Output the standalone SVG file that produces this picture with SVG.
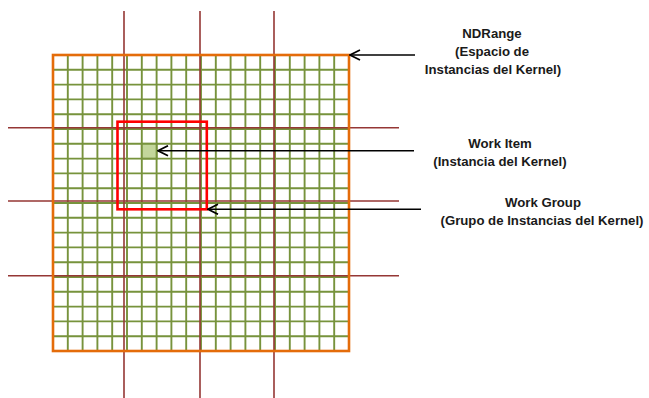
<svg xmlns="http://www.w3.org/2000/svg" width="649" height="398" viewBox="0 0 649 398">
<style>
.g{stroke:#77933C;stroke-width:1.9;fill:none}
.dr{stroke:#953735;stroke-width:1.6;fill:none}
.arr{stroke:#000;stroke-width:1.6;fill:none;marker-start:url(#ah)}
.t{font-family:"Liberation Sans",Arial,sans-serif;font-weight:bold;font-size:13.2px;fill:#1a1a1a;text-anchor:middle}
</style>
<defs>
<marker id="ah" viewBox="0 0 12 12" refX="1" refY="6" markerWidth="12" markerHeight="12" markerUnits="userSpaceOnUse" orient="auto">
<path d="M11,1 L1,6 L11,11" fill="none" stroke="#000" stroke-width="1.7"/>
</marker>
</defs>
<g id="ndrange-grid">
<path class="g" d="M67.8,55V351M82.6,55V351M97.4,55V351M112.2,55V351M127,55V351M141.8,55V351M156.6,55V351M171.4,55V351M186.2,55V351M201,55V351M215.8,55V351M230.6,55V351M245.4,55V351M260.2,55V351M275,55V351M289.8,55V351M304.6,55V351M319.4,55V351M334.2,55V351"/>
<path class="g" d="M53,69.8H349M53,84.6H349M53,99.4H349M53,114.2H349M53,129H349M53,143.8H349M53,158.6H349M53,173.4H349M53,188.2H349M53,203H349M53,217.8H349M53,232.6H349M53,247.4H349M53,262.2H349M53,277H349M53,291.8H349M53,306.6H349M53,321.4H349M53,336.2H349"/>
</g>
<g id="group-dividers">
<path class="dr" d="M124,11V398M200,11V398M274,11V398"/>
<path class="dr" d="M8,127.7H399M8,201H399M8,275.7H399"/>
</g>
<g id="ndrange">
<rect x="53" y="55" width="296" height="296" fill="none" stroke="#E46C0A" stroke-width="2.6"/>
</g>
<g id="work-group">
<rect x="117.5" y="121.7" width="89.3" height="87.6" fill="none" stroke="#FF0000" stroke-width="2.6"/>
</g>
<g id="work-item">
<rect x="141.8" y="143.8" width="14.8" height="14.8" fill="#C3D69B" stroke="#77933C" stroke-width="1.9"/>
</g>
<g id="connectors">
<line class="arr" x1="350" y1="55" x2="415" y2="55"/>
<line class="arr" x1="158" y1="150.7" x2="414" y2="150.7"/>
<line class="arr" x1="208" y1="209.3" x2="421" y2="209.3"/>
</g>
<g id="labels">
<text class="t" x="492" y="38">NDRange</text>
<text class="t" x="492" y="56">(Espacio de</text>
<text class="t" x="493" y="74">Instancias del Kernel)</text>
<text class="t" x="500" y="148">Work Item</text>
<text class="t" x="500" y="166">(Instancia del Kernel)</text>
<text class="t" x="543" y="207">Work Group</text>
<text class="t" x="542" y="225">(Grupo de Instancias del Kernel)</text>
</g>
</svg>
